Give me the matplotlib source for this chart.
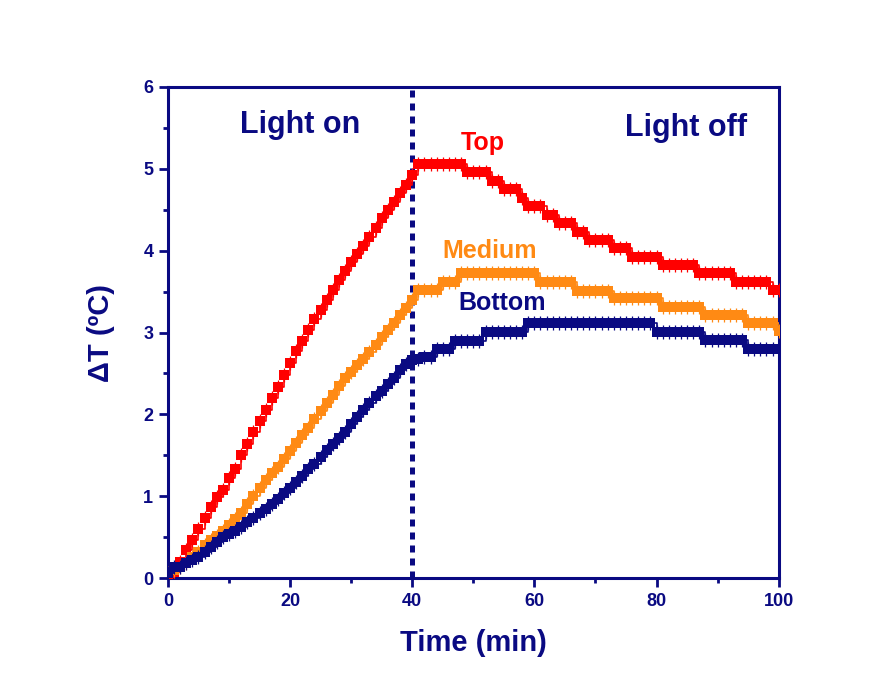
import matplotlib
matplotlib.use("Agg")
import matplotlib.pyplot as plt
from matplotlib.ticker import MultipleLocator

plt.rcParams['font.family'] = ['Liberation Sans', 'DejaVu Sans']
plt.rcParams['font.weight'] = 'bold'

NAVY = '#0a0a82'
RED = '#ff0000'
ORANGE = '#ff8a14'

time_min = list(range(0, 101))

top = [0.00, 0.08, 0.20, 0.34, 0.47, 0.60, 0.74, 0.87, 0.99, 1.08,
       1.22, 1.33, 1.50, 1.64, 1.78, 1.92, 2.06, 2.20, 2.33, 2.48,
       2.63, 2.77, 2.90, 3.03, 3.16, 3.28, 3.40, 3.52, 3.64, 3.75,
       3.86, 3.96, 4.06, 4.17, 4.28, 4.40, 4.50, 4.60, 4.70, 4.80,
       4.92, 5.06, 5.06, 5.06, 5.06, 5.06, 5.06, 5.06, 5.06, 4.96,
       4.96, 4.96, 4.96, 4.85, 4.85, 4.75, 4.75, 4.75, 4.65, 4.55,
       4.55, 4.55, 4.44, 4.44, 4.34, 4.34, 4.34, 4.23, 4.23, 4.13,
       4.13, 4.13, 4.13, 4.03, 4.03, 4.03, 3.92, 3.92, 3.92, 3.92,
       3.92, 3.83, 3.83, 3.83, 3.83, 3.83, 3.83, 3.73, 3.73, 3.73,
       3.73, 3.73, 3.73, 3.62, 3.62, 3.62, 3.62, 3.62, 3.62, 3.52,
       3.52]

medium = [0.06, 0.10, 0.13, 0.19, 0.26, 0.32, 0.40, 0.46, 0.52, 0.58,
          0.65, 0.72, 0.80, 0.90, 1.00, 1.10, 1.20, 1.28, 1.36, 1.45,
          1.55, 1.65, 1.75, 1.84, 1.94, 2.04, 2.14, 2.24, 2.35, 2.44,
          2.52, 2.60, 2.68, 2.76, 2.85, 2.94, 3.03, 3.12, 3.21, 3.30,
          3.40, 3.52, 3.52, 3.52, 3.52, 3.62, 3.62, 3.62, 3.73, 3.73,
          3.73, 3.73, 3.73, 3.73, 3.73, 3.73, 3.73, 3.73, 3.73, 3.73,
          3.73, 3.62, 3.62, 3.62, 3.62, 3.62, 3.62, 3.51, 3.51, 3.51,
          3.51, 3.51, 3.51, 3.42, 3.42, 3.42, 3.42, 3.42, 3.42, 3.42,
          3.42, 3.31, 3.31, 3.31, 3.31, 3.31, 3.31, 3.31, 3.21, 3.21,
          3.21, 3.21, 3.21, 3.21, 3.21, 3.12, 3.12, 3.12, 3.12, 3.12,
          3.02]

bottom = [0.06, 0.13, 0.13, 0.19, 0.22, 0.26, 0.32, 0.38, 0.44, 0.50,
          0.54, 0.58, 0.63, 0.68, 0.73, 0.79, 0.85, 0.91, 0.97, 1.04,
          1.10, 1.18, 1.25, 1.33, 1.40, 1.48, 1.56, 1.64, 1.71, 1.79,
          1.88, 1.97, 2.06, 2.14, 2.22, 2.29, 2.37, 2.45, 2.54, 2.62,
          2.66, 2.68, 2.70, 2.70, 2.80, 2.80, 2.80, 2.90, 2.90, 2.90,
          2.90, 2.90, 3.01, 3.01, 3.01, 3.01, 3.01, 3.01, 3.01, 3.12,
          3.12, 3.12, 3.12, 3.12, 3.12, 3.12, 3.12, 3.12, 3.12, 3.12,
          3.12, 3.12, 3.12, 3.12, 3.12, 3.12, 3.12, 3.12, 3.12, 3.12,
          3.01, 3.01, 3.01, 3.01, 3.01, 3.01, 3.01, 3.01, 2.91, 2.91,
          2.91, 2.91, 2.91, 2.91, 2.91, 2.80, 2.80, 2.80, 2.80, 2.80,
          2.80]

series = [("Top", top, RED), ("Medium", medium, ORANGE), ("Bottom", bottom, NAVY)]
series_label_pos = {"Top": (51.5, 5.31), "Medium": (52.7, 4.0), "Bottom": (54.8, 3.36)}

light_switch_time = 40

fig = plt.figure(figsize=(8.93, 6.85), dpi=100)
ax = fig.add_axes([0.188, 0.156, 0.684, 0.717])

for name, vals, col in series:
    ax.plot(time_min, vals, drawstyle='steps-post', color=col, lw=1.2,
            marker='s', markersize=6.5, markeredgewidth=0, zorder=3)
    ax.plot(time_min, vals, linestyle='none', color=col,
            marker='|', markersize=10, markeredgewidth=0.9, zorder=3)
    lx, ly = series_label_pos[name]
    ax.text(lx, ly, name, color=col, fontsize=18, fontweight='bold',
            ha='center', va='center')

ax.axvline(light_switch_time, color=NAVY, lw=3.6, linestyle=(0, (1.4, 1.2)), zorder=2)

ax.text(21.6, 5.44, "Light on", color=NAVY, fontsize=22, fontweight='bold',
        ha='center', va='baseline')
ax.text(84.8, 5.40, "Light off", color=NAVY, fontsize=22, fontweight='bold',
        ha='center', va='baseline')

ax.set_xlim(0, 100)
ax.set_ylim(0, 6)
ax.xaxis.set_major_locator(MultipleLocator(20))
ax.xaxis.set_minor_locator(MultipleLocator(10))
ax.yaxis.set_major_locator(MultipleLocator(1))
ax.yaxis.set_minor_locator(MultipleLocator(0.5))

for sp in ax.spines.values():
    sp.set_color(NAVY)
    sp.set_linewidth(2.2)

ax.tick_params(which='both', direction='out', color=NAVY, width=2.0,
               labelcolor=NAVY, labelsize=13, top=False, right=False)
ax.tick_params(which='major', length=6.5, pad=4)
ax.tick_params(which='minor', length=3.5)
for lab in ax.get_xticklabels() + ax.get_yticklabels():
    lab.set_fontweight('bold')

ax.set_xlabel("Time (min)", color=NAVY, fontsize=21, fontweight='bold', labelpad=14)
ax.set_ylabel("ΔT (ºC)", color=NAVY, fontsize=21, fontweight='bold', labelpad=20)

fig.savefig("out.png", dpi=100)
